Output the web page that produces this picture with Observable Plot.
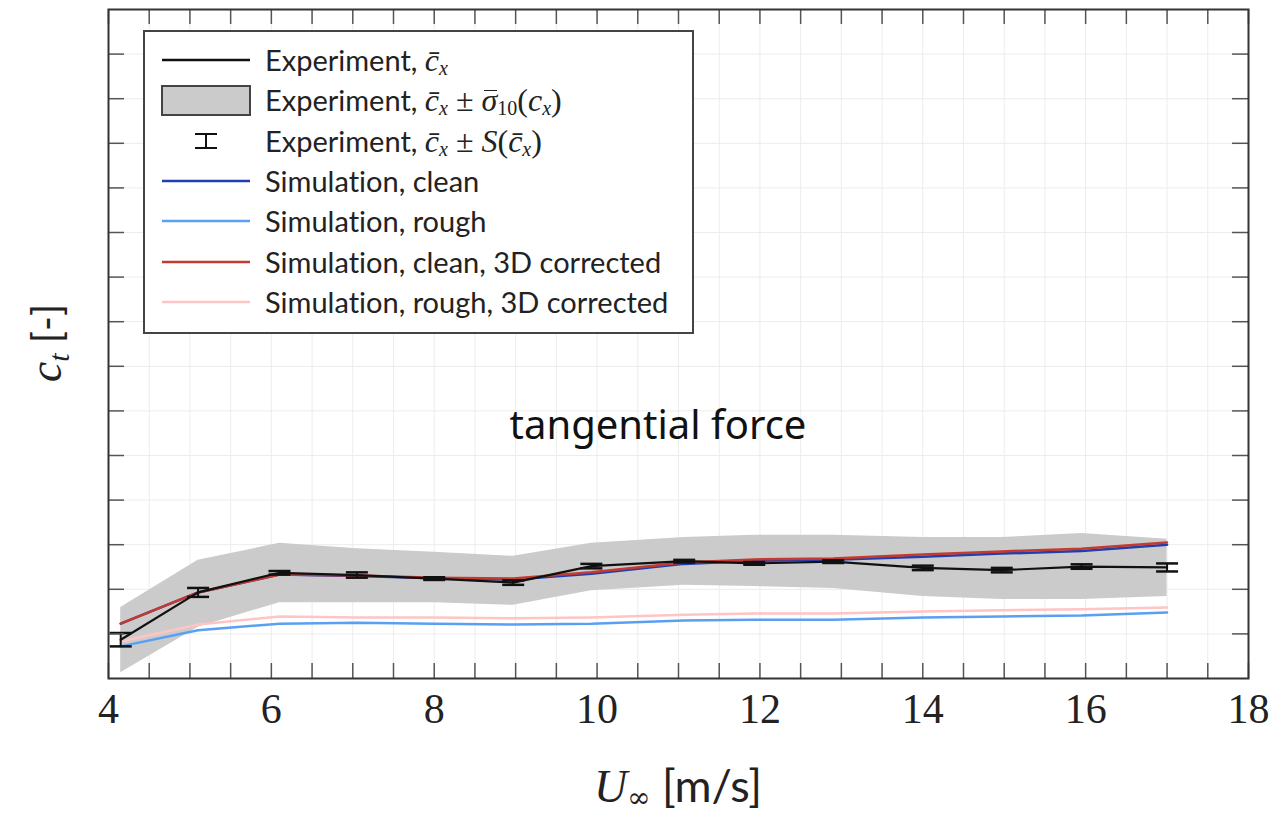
<!DOCTYPE html>
<html>
<head>
<meta charset="utf-8">
<script src="https://cdn.jsdelivr.net/npm/d3@7"></script>
<script src="https://cdn.jsdelivr.net/npm/@observablehq/plot@0.6"></script>
<style>
  body { margin: 0; background: #fff; }
  #wrap { position: relative; width: 1274px; height: 817px; overflow: hidden; }
  #legend { position: absolute; left: 143px; top: 30px; width: 551px; height: 304px;
            border: 2px solid #444; background: #fff; box-sizing: border-box;
            font-family: Lato, "Open Sans", sans-serif; font-size: 29px; color: #222;
            font-variant-ligatures: none; }
  .row { position: absolute; left: 0; height: 34px; line-height: 34px; white-space: nowrap; }
  .row svg { position: absolute; left: 15px; top: 0; }
  .row .lbl { position: absolute; left: 120px; top: 0; }
  .m { font-family: "Liberation Serif", "DejaVu Serif", serif; font-style: italic; font-size: 32px; }
  .m sub { font-size: 20px; vertical-align: -4px; line-height: 0; }
  .m .up { font-style: normal; }
  .bar { position: relative; }
  .bar::before { content: ""; position: absolute; left: 3px; right: 0px; top: 8px; border-top: 1.5px solid #222; }
</style>
</head>
<body>
<div id="wrap"></div>
<script>
// ---- data ----
const windSpeed   = [4.15, 5.1, 6.1, 7.05, 8.0, 8.97, 9.93, 11.07, 11.93, 12.9, 14.0, 14.97, 15.95, 17.0];
const expMean     = [0.87, 1.93, 2.37, 2.32, 2.24, 2.15, 2.52, 2.63, 2.58, 2.62, 2.48, 2.43, 2.51, 2.49];
const expStdErr   = [0.15, 0.10, 0.04, 0.06, 0.03, 0.05, 0.05, 0.03, 0.03, 0.03, 0.05, 0.05, 0.05, 0.09];
const expBandLow  = [0.13, 1.15, 1.70, 1.70, 1.70, 1.64, 1.97, 2.09, 2.06, 2.02, 1.84, 1.77, 1.77, 1.84];
const expBandHigh = [1.59, 2.65, 3.03, 2.91, 2.83, 2.74, 3.03, 3.16, 3.21, 3.21, 3.16, 3.16, 3.25, 3.12];
const simClean    = [1.23, 1.93, 2.33, 2.30, 2.25, 2.22, 2.35, 2.57, 2.64, 2.66, 2.73, 2.80, 2.86, 3.00];
const simRough    = [0.72, 1.08, 1.23, 1.25, 1.23, 1.21, 1.23, 1.30, 1.32, 1.32, 1.37, 1.39, 1.41, 1.48];
const simClean3D  = [1.23, 1.93, 2.33, 2.31, 2.26, 2.24, 2.38, 2.60, 2.67, 2.69, 2.78, 2.85, 2.91, 3.05];
const simRough3D  = [0.83, 1.21, 1.39, 1.37, 1.37, 1.35, 1.37, 1.43, 1.46, 1.46, 1.50, 1.53, 1.55, 1.59];
const xTickLabels = [4, 6, 8, 10, 12, 14, 16, 18];
const xMinorTicks = d3.range(4, 18.001, 0.5);
const yTicks      = d3.range(1, 15, 1);

const data = windSpeed.map((x, i) => ({
  x, mean: expMean[i], se: expStdErr[i], lo: expBandLow[i], hi: expBandHigh[i],
  clean: simClean[i], rough: simRough[i], clean3d: simClean3D[i], rough3d: simRough3D[i]
}));

const M = {left: 108, right: 26, top: 9, bottom: 139};
const W = 1274 - M.left - M.right;
const H = 817 - M.top - M.bottom;

const capSymbol = { draw(ctx) { ctx.moveTo(-11, 0); ctx.lineTo(11, 0); } };

const C = { clean: "#1f3fb0", rough: "#5aa0f2", clean3d: "#c43a2e", rough3d: "#ffc4c4" };

const chart = Plot.plot({
  width: 1274, height: 817,
  marginLeft: M.left, marginRight: M.right, marginTop: M.top, marginBottom: M.bottom,
  x: { domain: [4, 18] },
  y: { domain: [0, 15], axis: null },
  style: { background: "white", overflow: "visible" },
  marks: [
    Plot.ruleX(xMinorTicks, { stroke: "#ececec", strokeWidth: 1 }),
    Plot.ruleY(yTicks, { stroke: "#ececec", strokeWidth: 1 }),
    Plot.areaY(data, { x: "x", y1: "lo", y2: "hi", fill: "#cbcbcb" }),
    Plot.line(data, { x: "x", y: "rough3d", stroke: C.rough3d, strokeWidth: 2.5 }),
    Plot.line(data, { x: "x", y: "rough", stroke: C.rough, strokeWidth: 2.5 }),
    Plot.line(data, { x: "x", y: "clean", stroke: C.clean, strokeWidth: 2.5 }),
    Plot.line(data, { x: "x", y: "clean3d", stroke: C.clean3d, strokeWidth: 2.5 }),
    Plot.line(data, { x: "x", y: "mean", stroke: "#111", strokeWidth: 2.2 }),
    Plot.ruleX(data, { x: "x", y1: d => d.mean - d.se, y2: d => d.mean + d.se, stroke: "#111", strokeWidth: 2 }),
    Plot.dot(data, { x: "x", y: d => d.mean + d.se, symbol: capSymbol, stroke: "#111", strokeWidth: 2.5, fill: "none" }),
    Plot.dot(data, { x: "x", y: d => d.mean - d.se, symbol: capSymbol, stroke: "#111", strokeWidth: 2.5, fill: "none" }),
    // inward ticks on all four sides
    Plot.ruleX(xMinorTicks, { insetTop: H - 15, stroke: "#555", strokeWidth: 1.5 }),
    Plot.ruleX(xMinorTicks, { insetBottom: H - 15, stroke: "#555", strokeWidth: 1.5 }),
    Plot.ruleY(yTicks, { insetRight: W - 16, stroke: "#555", strokeWidth: 1.5 }),
    Plot.ruleY(yTicks, { insetLeft: W - 16, stroke: "#555", strokeWidth: 1.5 }),
    Plot.frame({ stroke: "#333", strokeWidth: 2 }),
    Plot.axisX(xTickLabels, { anchor: "bottom", tickSize: 0, tickPadding: 15, label: null,
      fontSize: 42, fontFamily: "Liberation Serif, serif", fill: "#222" })
  ]
});

document.getElementById("wrap").appendChild(chart);

const svg = d3.select(chart);
// x-axis label
const xl = svg.append("text").attr("x", 678).attr("y", 802).attr("text-anchor", "middle").attr("fill", "#222");
xl.append("tspan").attr("font-family", "Liberation Serif, serif").attr("font-style", "italic").attr("font-size", 46).text("U");
xl.append("tspan").attr("font-family", "DejaVu Serif, serif").attr("font-size", 28).attr("dy", 5).text("∞");
xl.append("tspan").attr("font-family", "Lato, sans-serif").attr("font-size", 45).attr("dy", -5).text(" [m/s]");
// y-axis label
const yl = svg.append("text").attr("transform", "translate(61,343) rotate(-90)").attr("text-anchor", "middle").attr("fill", "#222");
yl.append("tspan").attr("font-family", "Liberation Serif, serif").attr("font-style", "italic").attr("font-size", 46).text("c");
yl.append("tspan").attr("font-family", "Liberation Serif, serif").attr("font-style", "italic").attr("font-size", 30).attr("dy", 8).text("t");
yl.append("tspan").attr("font-family", "Lato, sans-serif").attr("font-size", 40).attr("dy", -8).text(" [-]");
// annotation
svg.append("text").attr("x", 658).attr("y", 439).attr("text-anchor", "middle")
  .attr("font-family", "Noto Sans, sans-serif").attr("font-size", 40).attr("fill", "#111").text("tangential force");

// legend
const legend = document.createElement("div");
legend.id = "legend";
const cbar = 'c\u0304';
const rows = [
  { kind: "line", color: "#111", html: `Experiment, <span class="m">${cbar}<sub>x</sub></span>` },
  { kind: "box", html: `Experiment, <span class="m">${cbar}<sub>x</sub> <span class="up">±</span> <span class="bar">σ</span><sub class="up">10</sub><span class="up">(</span>c<sub>x</sub><span class="up">)</span></span>` },
  { kind: "err", html: `Experiment, <span class="m">${cbar}<sub>x</sub> <span class="up">±</span> S<span class="up">(</span>${cbar}<sub>x</sub><span class="up">)</span></span>` },
  { kind: "line", color: C.clean, html: "Simulation, clean" },
  { kind: "line", color: C.rough, html: "Simulation, rough" },
  { kind: "line", color: C.clean3d, html: "Simulation, clean, 3D corrected" },
  { kind: "line", color: C.rough3d, html: "Simulation, rough, 3D corrected" }
];
rows.forEach((r, i) => {
  const row = document.createElement("div");
  row.className = "row";
  row.style.top = (11 + i * 40.3) + "px";
  let sw = "";
  if (r.kind === "line") sw = `<svg width="92" height="34"><line x1="2" x2="90" y1="17" y2="17" stroke="${r.color}" stroke-width="2.5"/></svg>`;
  if (r.kind === "box") sw = `<svg width="92" height="34"><rect x="2" y="3" width="88" height="29" fill="#cbcbcb" stroke="#444" stroke-width="2"/></svg>`;
  if (r.kind === "err") sw = `<svg width="92" height="34"><path d="M35,10H57M35,24H57M46,10V24" stroke="#111" stroke-width="2" fill="none"/></svg>`;
  row.innerHTML = sw + `<span class="lbl">${r.html}</span>`;
  legend.appendChild(row);
});
document.getElementById("wrap").appendChild(legend);
</script>
</body>
</html>
